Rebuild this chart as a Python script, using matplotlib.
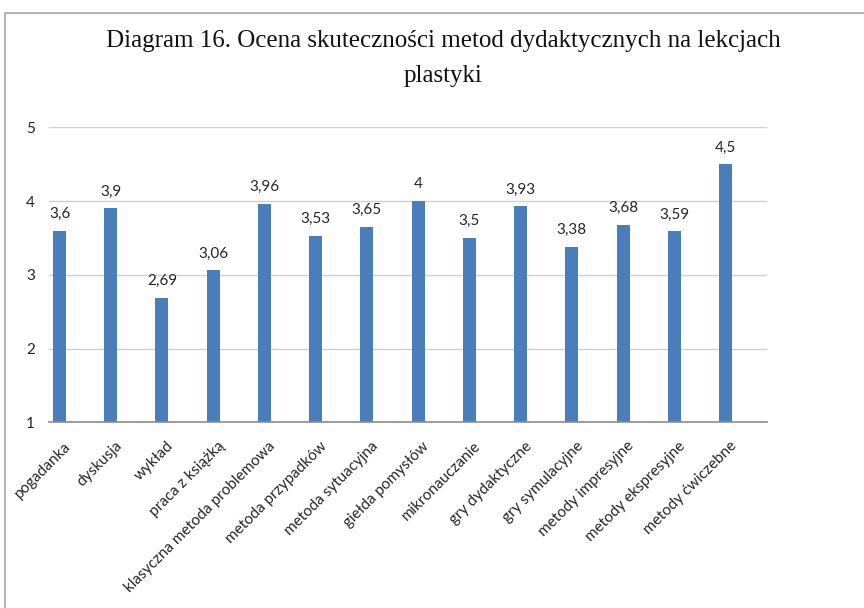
import matplotlib
matplotlib.use('Agg')
import matplotlib.pyplot as plt
import matplotlib.transforms as mtransforms
from matplotlib.patches import Rectangle

plt.rcParams['font.family'] = ['Lato', 'DejaVu Sans']

# dane
kategorie = ['pogadanka', 'dyskusja', 'wykład', 'praca z książką',
             'klasyczna metoda problemowa', 'metoda przypadków',
             'metoda sytuacyjna', 'giełda pomysłów', 'mikronauczanie',
             'gry dydaktyczne', 'gry symulacyjne', 'metody impresyjne',
             'metody ekspresyjne', 'metody ćwiczebne']
oceny = [3.6, 3.9, 2.69, 3.06, 3.96, 3.53, 3.65, 4.0, 3.5, 3.93, 3.38,
         3.68, 3.59, 4.5]
y_ticks = [1, 2, 3, 4, 5]

tytul_1 = 'Diagram 16. Ocena skuteczności metod dydaktycznych na lekcjach'
tytul_2 = 'plastyki'

fig = plt.figure(figsize=(8.64, 6.08), dpi=100)

# ramka wykresu
fig.patches.append(Rectangle((5 / 864, -0.1), 1.1, 1.1 - 13 / 608,
                             transform=fig.transFigure, fill=False,
                             edgecolor='#A6A6A6', linewidth=1.2))

ax = fig.add_axes([49 / 864, 1 - 422.3 / 608, (767 - 49) / 864, (422.3 - 127.3) / 608])

x = list(range(len(kategorie)))
ax.bar(x, oceny, width=0.254, color='#4A7EBB', zorder=3)

ax.set_ylim(1, 5)
ax.set_xlim(-0.205, 13.81)
ax.set_yticks(y_ticks)
ax.set_yticklabels([str(v) for v in y_ticks])
ax.yaxis.grid(True, color='#D0D0D0', linewidth=1, zorder=0)
ax.set_axisbelow(True)

for s in ['left', 'right', 'top']:
    ax.spines[s].set_visible(False)
ax.spines['bottom'].set_color('#8C8C8C')
ax.spines['bottom'].set_linewidth(1.2)
ax.spines['bottom'].set_zorder(4)

ax.tick_params(axis='y', length=0, pad=10, labelsize=11, labelcolor='#262626')
ax.tick_params(axis='x', length=0, pad=12, labelsize=11, labelcolor='#262626')
ax.set_xticks(x)
ax.set_xticklabels(kategorie, rotation=45, ha='right', va='top',
                   rotation_mode='anchor')
przesun = mtransforms.ScaledTranslation(4 / 100, 0, fig.dpi_scale_trans)
for lab in ax.get_xticklabels():
    lab.set_transform(lab.get_transform() + przesun)

# etykiety wartości
for xi, v in zip(x, oceny):
    txt = f'{v:g}'.replace('.', ',')
    ax.annotate(txt, (xi, v), xytext=(0, 7), textcoords='offset points',
                ha='center', va='bottom', fontsize=11, color='#262626')

serif = ['Liberation Serif', 'DejaVu Serif']
fig.text(443 / 864, 1 - 47 / 608, tytul_1, ha='center', va='baseline',
         fontsize=18, family=serif, color='#111111')
fig.text(443 / 864, 1 - 82 / 608, tytul_2, ha='center', va='baseline',
         fontsize=18, family=serif, color='#111111')

fig.savefig('out.png', dpi=100)
